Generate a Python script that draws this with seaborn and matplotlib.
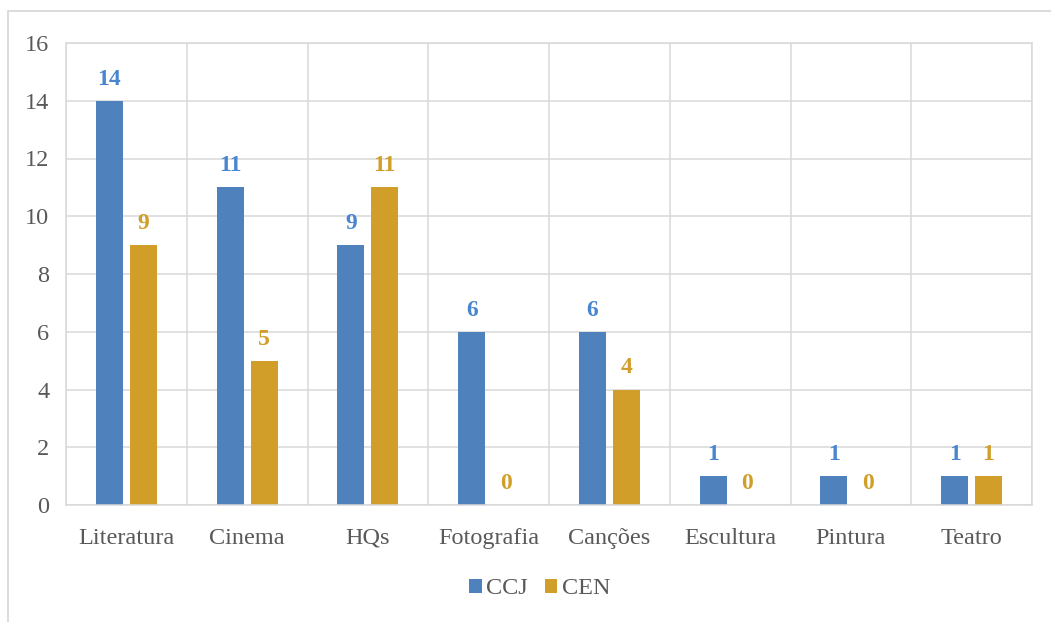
import matplotlib
matplotlib.use("Agg")
import matplotlib.pyplot as plt
from matplotlib.lines import Line2D
from matplotlib.ticker import MultipleLocator, FixedLocator
import seaborn as sns
import pandas as pd

categories = ["Literatura", "Cinema", "HQs", "Fotografia", "Canções", "Escultura", "Pintura", "Teatro"]
ccj = [14, 11, 9, 6, 6, 1, 1, 1]
cen = [9, 5, 11, 0, 4, 0, 0, 1]
series = ["CCJ", "CEN"]

df = pd.DataFrame({
    "cat": categories * 2,
    "val": ccj + cen,
    "serie": ["CCJ"] * len(categories) + ["CEN"] * len(categories),
})

sns.set_theme(style="white")
plt.rcParams["font.family"] = ["Liberation Serif", "DejaVu Serif"]

blue = "#4F81BD"
gold = "#D09E29"
label_blue = "#4A86CF"
label_gold = "#D09E29"
grid_c = "#D9D9D9"
text_c = "#595959"

fig = plt.figure(figsize=(10.51, 6.22), dpi=100)
ax = fig.add_axes([66 / 1051, 1 - 505 / 622, (1032 - 66) / 1051, (505 - 43) / 622])

sns.barplot(data=df, x="cat", y="val", hue="serie", palette=[blue, gold],
            width=0.56, gap=0.2, ax=ax, legend=True, saturation=1, linewidth=0)

for cont, col in zip(ax.containers, [label_blue, label_gold]):
    ax.bar_label(cont, padding=8, color=col, fontsize=17, fontweight="bold")

ax.set_ylim(0, 16)
ax.set_xlim(-0.5, len(categories) - 0.5)
ax.yaxis.set_major_locator(MultipleLocator(2))
ax.xaxis.set_minor_locator(FixedLocator([i - 0.5 for i in range(len(categories) + 1)]))
ax.grid(axis="y", which="major", color=grid_c, linewidth=1.1)
ax.grid(axis="x", which="minor", color=grid_c, linewidth=1.1)
ax.grid(axis="x", which="major", visible=False)
ax.set_axisbelow(True)
for s in ax.spines.values():
    s.set_color(grid_c)
    s.set_linewidth(1.1)
ax.tick_params(axis="both", which="both", length=0, labelsize=17.5, labelcolor=text_c)
ax.tick_params(axis="x", pad=28)
ax.tick_params(axis="y", pad=12)
for lab in ax.get_xticklabels():
    lab.set_verticalalignment("baseline")
ax.set_xlabel("")
ax.set_ylabel("")

leg = ax.legend(loc="center", bbox_to_anchor=(540 / 1051, 1 - 589 / 622),
                bbox_transform=fig.transFigure, ncol=2, frameon=False,
                fontsize=17.5, handlelength=0.5, handleheight=0.5,
                handletextpad=0.2, columnspacing=0.7, labelcolor=text_c)

# outer chart border (top and left visible)
fig.add_artist(Line2D([8 / 1051, 1.0], [1 - 11 / 622, 1 - 11 / 622], color=grid_c,
                      linewidth=1.3, transform=fig.transFigure))
fig.add_artist(Line2D([8 / 1051, 8 / 1051], [0.0, 1 - 11 / 622], color=grid_c,
                      linewidth=1.3, transform=fig.transFigure))

fig.savefig("out.png", dpi=100, facecolor="white")
